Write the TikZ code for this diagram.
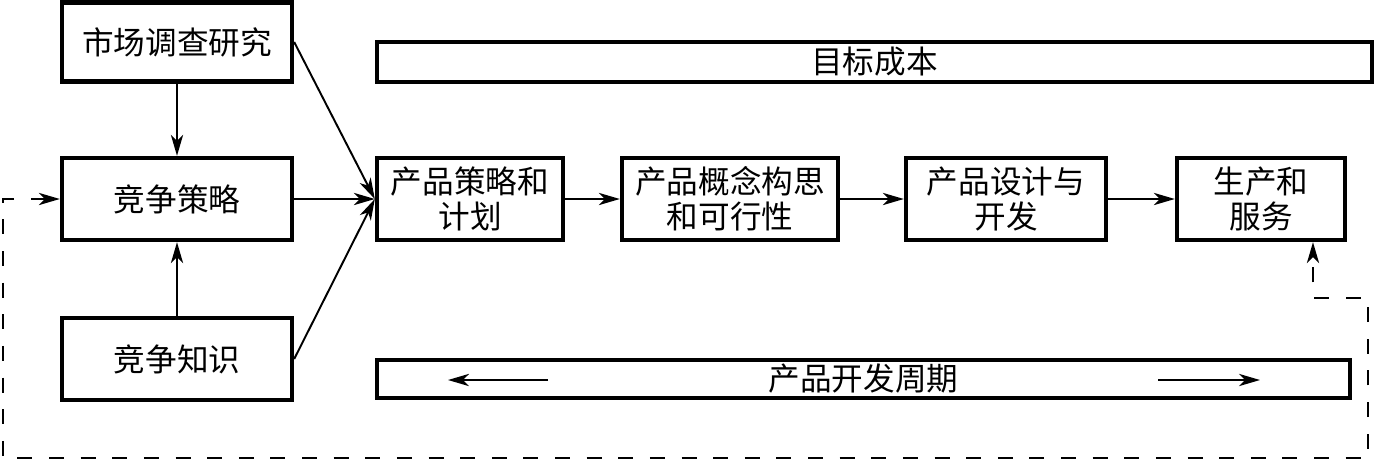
\documentclass[tikz,border=0pt]{standalone}
\usepackage{fontspec}
\usepackage{tikz}
\usetikzlibrary{arrows.meta}
\newfontfamily\cjk{Noto Sans CJK SC}

\tikzset{
  blk/.style={draw, line width=2.5pt, inner sep=0pt, align=center,
    font=\cjk\fontsize{18}{20}\selectfont},
  flow/.style={line width=1.1pt, -{Stealth[length=12pt, width=7pt, inset=3.5pt]}},
  fback/.style={line width=1.1pt, dash pattern=on 8.5pt off 9.5pt,
    {Stealth[length=12pt, width=7pt, inset=3.5pt]}-{Stealth[length=12pt, width=7pt, inset=3.5pt]}}
}

\begin{document}
\begin{tikzpicture}[x=0.02cm, y=-0.02cm]
    \useasboundingbox (0,0) rectangle (1377,461);

    % left column
    \node[blk, minimum width=4.6cm, minimum height=1.58cm] (market) at (177,42) {市场调查研究};
    \node[blk, minimum width=4.6cm, minimum height=1.64cm] (strat) at (177,199) {竞争策略};
    \node[blk, minimum width=4.6cm, minimum height=1.64cm] (know) at (177,359) {竞争知识};

    % bars
    \node[blk, minimum width=19.9cm, minimum height=0.8cm] (target) at (874.5,62) {目标成本};
    \node[blk, minimum width=19.46cm, minimum height=0.76cm] (cycle) at (863.5,379) {产品开发周期};

    % main chain
    \node[blk, minimum width=3.72cm, minimum height=1.64cm] (plan) at (470,199) {产品策略和\\计划};
    \node[blk, minimum width=4.32cm, minimum height=1.64cm] (concept) at (730,199) {产品概念构思\\和可行性};
    \node[blk, minimum width=4.0cm, minimum height=1.64cm] (design) at (1006,199) {产品设计与\\开发};
    \node[blk, minimum width=3.36cm, minimum height=1.64cm] (prod) at (1261,199) {生产和\\服务};

    % arrows
    \draw[flow] (market) -- (strat);
    \draw[flow] (know) -- (strat);
    \draw[flow] (market.east) -- (plan.west);
    \draw[flow] (strat) -- (plan);
    \draw[flow] (know.east) -- (plan.west);
    \draw[flow] (plan) -- (concept);
    \draw[flow] (concept) -- (design);
    \draw[flow] (design) -- (prod);

    % cycle arrows
    \coordinate (cl) at (548,380);
    \coordinate (clt) at (448,380);
    \coordinate (cr) at (1158,380);
    \coordinate (crt) at (1260,380);
    \draw[flow] (cl) -- (clt);
    \draw[flow] (cr) -- (crt);

    % feedback loop
    \draw[fback] (strat.west) -| (3,458) -| (1368,298) -| ([xshift=1.04cm]prod.south);
\end{tikzpicture}
\end{document}
